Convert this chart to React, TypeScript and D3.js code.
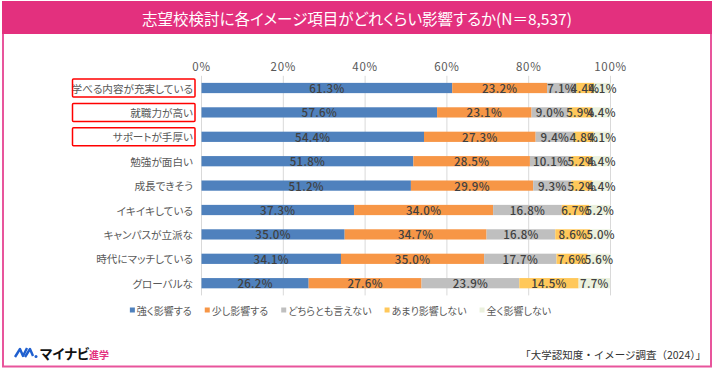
import { useLayoutEffect, useRef, useState } from 'react'
import * as d3 from 'd3'

const W = 714
const H = 369
const FONT = '"Noto Sans CJK JP", "Noto Sans", sans-serif'

const CATEGORIES = [
  '学べる内容が充実している',
  '就職力が高い',
  'サポートが手厚い',
  '勉強が面白い',
  '成長できそう',
  'イキイキしている',
  'キャンパスが立派な',
  '時代にマッチしている',
  'グローバルな',
]
const HIGHLIGHTED = ['学べる内容が充実している', '就職力が高い', 'サポートが手厚い']

const STRONG = [61.3, 57.6, 54.4, 51.8, 51.2, 37.3, 35.0, 34.1, 26.2]
const SOMEWHAT = [23.2, 23.1, 27.3, 28.5, 29.9, 34.0, 34.7, 35.0, 27.6]
const NEUTRAL = [7.1, 9.0, 9.4, 10.1, 9.3, 16.8, 16.8, 17.7, 23.9]
const LITTLE = [4.4, 5.9, 4.8, 5.2, 5.2, 6.7, 8.6, 7.6, 14.5]
const NONE = [4.1, 4.4, 4.1, 4.4, 4.4, 5.2, 5.0, 5.6, 7.7]

const SERIES = ['強く影響する', '少し影響する', 'どちらとも言えない', 'あまり影響しない', '全く影響しない']
const COLORS = ['#4F81BD', '#F79646', '#BFBFBF', '#FFC85A', '#EBF1DE']
const TICKS = [0, 20, 40, 60, 80, 100]

const TITLE = '志望校検討に各イメージ項目がどれくらい影響するか(N＝8,537)'
const SOURCE = '「大学認知度・イメージ調査（2024）」'

const MARGIN = { top: 75.8, left: 201.5, right: 103.5, bottom: 73.6 }

export default function App() {
  const legendRefs = useRef<(SVGTextElement | null)[]>([])
  const [legendWidths, setLegendWidths] = useState<number[]>(SERIES.map(() => 60))

  useLayoutEffect(() => {
    const ws = legendRefs.current.map(el => (el ? el.getComputedTextLength() : 60))
    setLegendWidths(ws)
  }, [])

  // table rows for the stack
  const table = CATEGORIES.map((c, i) => ({
    category: c,
    [SERIES[0]]: STRONG[i],
    [SERIES[1]]: SOMEWHAT[i],
    [SERIES[2]]: NEUTRAL[i],
    [SERIES[3]]: LITTLE[i],
    [SERIES[4]]: NONE[i],
  }))
  const stacked = d3.stack<any>().keys(SERIES)(table)

  const x = d3.scaleLinear().domain([0, 100]).range([MARGIN.left, W - MARGIN.right])
  const y = d3.scaleBand()
    .domain(CATEGORIES)
    .range([MARGIN.top, H - MARGIN.bottom])
    .paddingInner(0.58)
    .paddingOuter(0.29)

  // legend layout, centred
  const sq = 5
  const gapIn = 2
  const gapOut = 13
  const itemW = legendWidths.map(w => sq + gapIn + w)
  const totalW = d3.sum(itemW) + gapOut * (SERIES.length - 1)
  let lx = 340.5 - totalW / 2
  const legendX = itemW.map(w => {
    const s = lx
    lx += w + gapOut
    return s
  })
  const legendY = 310

  return (
    <svg
      width={W}
      height={H}
      style={{ position: 'fixed', left: 0, top: 0, fontFamily: FONT, fontFeatureSettings: '"palt"' }}
    >
      <rect x={0} y={0} width={W} height={H} fill="#fff" />
      {/* frame */}
      <rect x={3} y={2} width={708} height={364.5} fill="none" stroke="#E8559C" strokeWidth={2} />
      <rect x={2} y={1} width={710} height={33} fill="#E3307E" />
      <text x={357} y={18} textAnchor="middle" dominantBaseline="central" fill="#fff" fontSize={15.5}>
        {TITLE}
      </text>

      {/* grid */}
      {TICKS.map(t => (
        <g key={t}>
          <line
            x1={x(t)}
            x2={x(t)}
            y1={MARGIN.top}
            y2={H - MARGIN.bottom}
            stroke="#D9D9D9"
            strokeWidth={1}
          />
          <text
            x={x(t)}
            y={66}
            textAnchor="middle"
            dominantBaseline="central"
            fill="#595959"
            fontSize={11.5}
            letterSpacing={0.7}
          >
            {t}%
          </text>
        </g>
      ))}

      {/* bars */}
      {stacked.map((s, si) => (
        <g key={s.key}>
          {s.map((d, i) => (
            <rect
              key={i}
              x={x(d[0])}
              y={y(CATEGORIES[i])!}
              width={x(d[1]) - x(d[0])}
              height={y.bandwidth()}
              fill={COLORS[si]}
            />
          ))}
        </g>
      ))}

      {/* value labels */}
      {stacked.map(s => (
        <g key={s.key}>
          {s.map((d, i) => (
            <text
              key={i}
              x={x((d[0] + d[1]) / 2)}
              y={y(CATEGORIES[i])! + y.bandwidth() / 2}
              textAnchor="middle"
              dominantBaseline="central"
              fill="#404040"
              fontSize={11.5}
              fontWeight={500}
              letterSpacing={0.3}
            >
              {(d[1] - d[0]).toFixed(1)}%
            </text>
          ))}
        </g>
      ))}

      {/* category labels */}
      {CATEGORIES.map(c => (
        <text
          key={c}
          x={193}
          y={y(c)! + y.bandwidth() / 2}
          textAnchor="end"
          dominantBaseline="central"
          fill="#595959"
          fontSize={10.6}
        >
          {c}
        </text>
      ))}

      {/* highlight boxes */}
      {HIGHLIGHTED.map(c => (
        <rect
          key={c}
          x={72.5}
          y={y(c)! + y.bandwidth() / 2 - 9}
          width={122.5}
          height={18}
          rx={1}
          fill="none"
          stroke="#FF0000"
          strokeWidth={1.5}
        />
      ))}

      {/* legend */}
      {SERIES.map((s, i) => (
        <g key={s} transform={`translate(${legendX[i]},${legendY})`}>
          <rect x={0} y={-sq / 2} width={sq} height={sq} fill={COLORS[i]} />
          <text
            ref={el => { legendRefs.current[i] = el }}
            x={sq + gapIn}
            y={0}
            dominantBaseline="central"
            fill="#595959"
            fontSize={10}
          >
            {s}
          </text>
        </g>
      ))}

      {/* logo */}
      <g transform="translate(15,347)">
        <path d="M0,10 L5,2 L8,9 L12,1" fill="none" stroke="#1F5FCF" strokeWidth={2.4} strokeLinejoin="round" />
        <path d="M10,10 L15,2 L18,9" fill="none" stroke="#1F5FCF" strokeWidth={2.4} strokeLinejoin="round" />
        <circle cx={21} cy={9.5} r={1.5} fill="#1F5FCF" />
      </g>
      <text x={40} y={353} dominantBaseline="central" fill="#111" fontSize={13.5} fontWeight={700}>
        マイナビ
      </text>
      <text x={89} y={354} dominantBaseline="central" fill="#E3307E" fontSize={10} fontWeight={700}>
        進学
      </text>

      <text
        x={706}
        y={354}
        textAnchor="end"
        dominantBaseline="central"
        fill="#333"
        fontSize={10.5}
        style={{ fontFeatureSettings: 'normal' }}
      >
        {SOURCE}
      </text>
    </svg>
  )
}
